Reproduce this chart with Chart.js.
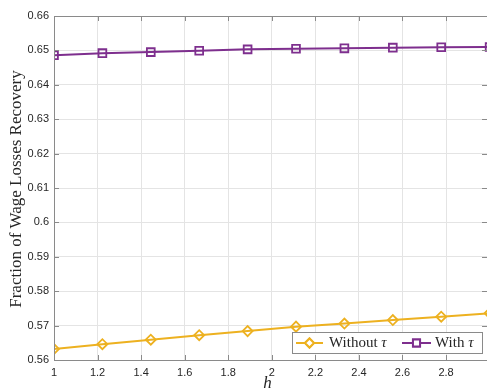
<!DOCTYPE html>
<html>
<head>
<meta charset="utf-8">
<script src="https://cdn.jsdelivr.net/npm/chart.js@4/dist/chart.umd.min.js"></script>
<style>
  html, body { margin: 0; padding: 0; background: #fff; overflow: hidden; }
  #wrap { width: 487px; height: 390px; position: relative; }
</style>
</head>
<body>
<div id="wrap"><canvas id="c" width="487" height="390"></canvas></div>
<script>
// h values and the recovered fraction of wage losses for each policy
const hValues = [1, 1.2222, 1.4444, 1.6667, 1.8889, 2.1111, 2.3333, 2.5556, 2.7778, 3];
const withoutTau = [0.5632, 0.5646, 0.5659, 0.5672, 0.5684, 0.5697, 0.5706, 0.5716, 0.5726, 0.5736];
const withTau = [0.6486, 0.6492, 0.6495, 0.6499, 0.6503, 0.6505, 0.6506, 0.6508, 0.6509, 0.6510];
const seriesNames = ['Without', 'With'];
const xTicks = [1, 1.2, 1.4, 1.6, 1.8, 2, 2.2, 2.4, 2.6, 2.8];
const yTicks = [0.56, 0.57, 0.58, 0.59, 0.6, 0.61, 0.62, 0.63, 0.64, 0.65, 0.66];

const YELLOW = '#EDB120';
const PURPLE = '#7E2F8E';
const AXIS = '#8a8a8a';
const GRID = '#e4e4e4';
const TICKTXT = '#262626';
const SERIF = '"Liberation Serif", "DejaVu Serif", serif';

const toPoints = ys => hValues.map((h, i) => ({ x: h, y: ys[i] }));

// Box outline, inward tick marks, axis titles and the legend
const decorations = {
  id: 'decorations',
  afterDraw(chart) {
    const { ctx, chartArea: a, scales } = chart;
    ctx.save();
    ctx.strokeStyle = AXIS;
    ctx.lineWidth = 1;
    ctx.beginPath();
    ctx.moveTo(a.left + 0.5, a.top + 0.5);
    ctx.lineTo(a.right + 0.5, a.top + 0.5);
    ctx.moveTo(a.left + 0.5, a.top);
    ctx.lineTo(a.left + 0.5, a.bottom + 0.5);
    ctx.lineTo(a.right, a.bottom + 0.5);
    const tl = 5;
    xTicks.forEach(v => {
      const px = Math.round(scales.x.getPixelForValue(v)) + 0.5;
      ctx.moveTo(px, a.bottom); ctx.lineTo(px, a.bottom - tl);
      ctx.moveTo(px, a.top); ctx.lineTo(px, a.top + tl);
    });
    yTicks.forEach(v => {
      const py = Math.round(scales.y.getPixelForValue(v)) + 0.5;
      ctx.moveTo(a.left, py); ctx.lineTo(a.left + tl, py);
      ctx.moveTo(a.right, py); ctx.lineTo(a.right - tl, py);
    });
    ctx.stroke();

    // axis titles
    ctx.fillStyle = TICKTXT;
    ctx.textAlign = 'center';
    ctx.textBaseline = 'middle';
    ctx.font = 'italic 17px ' + SERIF;
    ctx.fillText('h', (a.left + a.right) / 2 - 3, 384);
    ctx.save();
    ctx.translate(17, (a.top + a.bottom) / 2 + 1);
    ctx.rotate(-Math.PI / 2);
    ctx.font = '17px ' + SERIF;
    ctx.fillText('Fraction of Wage Losses Recovery', 0, 0);
    ctx.restore();

    // legend
    const lx = 292, ly = 332, lw = 190, lh = 21;
    ctx.fillStyle = '#fff';
    ctx.fillRect(lx, ly, lw, lh);
    ctx.strokeStyle = AXIS;
    ctx.strokeRect(lx + 0.5, ly + 0.5, lw, lh);
    const cy = ly + lh / 2 + 0.5;
    const entries = [
      { color: YELLOW, style: 'rectRot', x0: 296, x1: 323, tx: 329, name: seriesNames[0] },
      { color: PURPLE, style: 'rect', x0: 402, x1: 431, tx: 435, name: seriesNames[1] }
    ];
    entries.forEach(e => {
      ctx.strokeStyle = e.color;
      ctx.lineWidth = 2;
      ctx.beginPath();
      ctx.moveTo(e.x0, cy); ctx.lineTo(e.x1, cy);
      ctx.stroke();
      Chart.helpers.drawPoint(ctx, {
        pointStyle: e.style, radius: e.style === 'rect' ? 5 : 4.5,
        borderWidth: 1.6, rotation: 0
      }, (e.x0 + e.x1) / 2, cy);
      ctx.fillStyle = '#fff';
      ctx.fill();
      ctx.stroke();
      ctx.fillStyle = TICKTXT;
      ctx.textAlign = 'left';
      ctx.font = '15px ' + SERIF;
      const label = e.name + ' ';
      ctx.fillText(label, e.tx, cy);
      const w = ctx.measureText(label).width;
      ctx.font = 'italic 15px ' + SERIF;
      ctx.fillText('\u03C4', e.tx + w, cy);
    });
    ctx.restore();
  }
};

new Chart(document.getElementById('c'), {
  type: 'line',
  data: {
    datasets: [
      {
        label: seriesNames[0] + ' \u03C4',
        data: toPoints(withoutTau),
        borderColor: YELLOW,
        backgroundColor: '#fff',
        borderWidth: 2,
        pointStyle: 'rectRot',
        pointRadius: 5,
        pointBorderWidth: 1.8,
        pointBackgroundColor: 'rgba(255,255,255,0)',
        tension: 0
      },
      {
        label: seriesNames[1] + ' \u03C4',
        data: toPoints(withTau),
        borderColor: PURPLE,
        backgroundColor: '#fff',
        borderWidth: 2,
        pointStyle: 'rect',
        pointRadius: 5.5,
        pointBorderWidth: 1.8,
        pointBackgroundColor: 'rgba(255,255,255,0)',
        tension: 0
      }
    ]
  },
  options: {
    responsive: false,
    animation: false,
    events: [],
    layout: { autoPadding: false, padding: { top: 16, right: 0, left: 0, bottom: 0 } },
    plugins: { legend: { display: false }, tooltip: { enabled: false } },
    scales: {
      x: {
        type: 'linear',
        min: 1,
        max: 2.988,
        afterBuildTicks: s => { s.ticks = xTicks.map(v => ({ value: v })); },
        afterFit: s => { s.height = 30; s.paddingLeft = 0; s.paddingRight = 0; },
        grid: { color: GRID, drawTicks: false, drawOnChartArea: true },
        border: { display: false },
        ticks: {
          padding: 6,
          color: TICKTXT,
          font: { family: '"Liberation Sans", Arial, sans-serif', size: 11 },
          callback: v => String(v),
          maxRotation: 0,
          autoSkip: false
        }
      },
      y: {
        min: 0.56,
        max: 0.66,
        afterBuildTicks: s => { s.ticks = yTicks.map(v => ({ value: v })); },
        afterFit: s => { s.width = 54; s.paddingTop = 0; s.paddingBottom = 0; },
        grid: { color: GRID, drawTicks: false },
        border: { display: false },
        ticks: {
          padding: 5,
          color: TICKTXT,
          font: { family: '"Liberation Sans", Arial, sans-serif', size: 11 },
          callback: v => String(v),
          autoSkip: false
        }
      }
    }
  },
  plugins: [decorations]
});
</script>
</body>
</html>
